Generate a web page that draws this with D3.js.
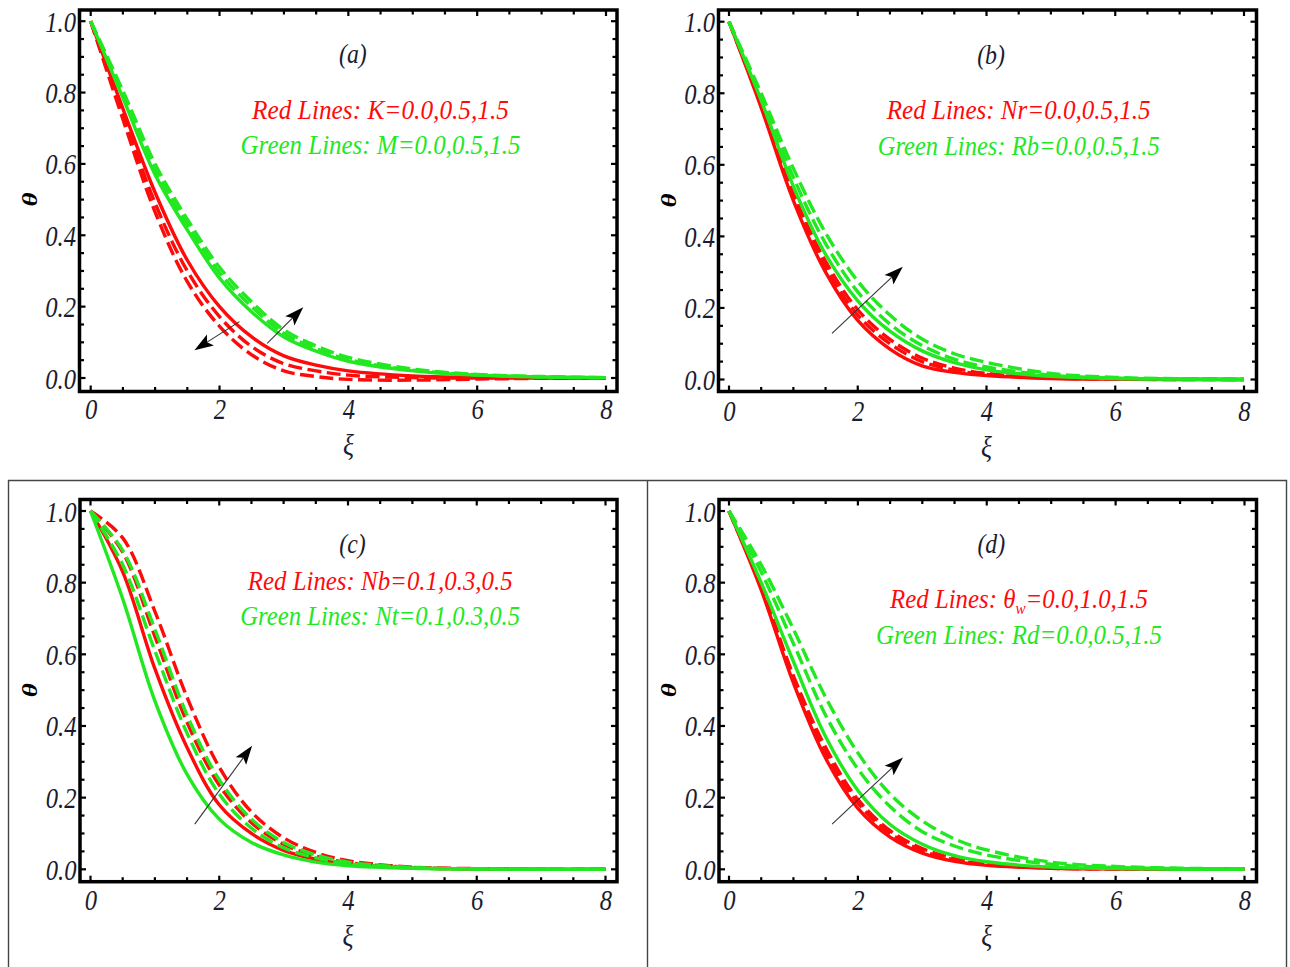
<!DOCTYPE html>
<html><head><meta charset="utf-8">
<script src="https://cdn.jsdelivr.net/npm/d3@7"></script>
<style>
body{margin:0;background:#fff}
svg{display:block}
text{font-family:"Liberation Serif","Times New Roman",serif;font-style:italic}
</style>
</head><body>
<svg id="chart" width="1290" height="967"></svg>
<script>
// ---------- data ----------
const xi = [0,0.5,1,1.5,2,2.5,3,3.5,4,5,6,7,8];

// (a) red: K = 0.0, 0.5, 1.5 ; green: M = 0.0, 0.5, 1.5
const aRedK00   = [1,0.755,0.52,0.33,0.20,0.115,0.062,0.036,0.020,0.006,0.002,0.001,0];
const aRedK05   = [1,0.74,0.49,0.30,0.172,0.088,0.040,0.020,0.008,0.001,0,0,0];
const aRedK15   = [1,0.725,0.465,0.27,0.145,0.065,0.020,0.004,-0.004,-0.006,-0.003,-0.001,0];
const aGreenM00 = [1,0.785,0.57,0.415,0.28,0.185,0.115,0.075,0.047,0.020,0.008,0.003,0.001];
const aGreenM05 = [1,0.795,0.585,0.43,0.295,0.20,0.125,0.082,0.052,0.022,0.009,0.003,0.001];
const aGreenM15 = [1,0.805,0.60,0.445,0.31,0.213,0.135,0.090,0.058,0.025,0.010,0.004,0.001];

// (b) red: Nr = 0.0, 0.5, 1.5 ; green: Rb = 0.0, 0.5, 1.5
const bRedNr00   = [1,0.76,0.50,0.30,0.165,0.085,0.038,0.020,0.011,0.003,0.001,0,0];
const bRedNr05   = [1,0.765,0.51,0.315,0.18,0.10,0.050,0.026,0.014,0.004,0.001,0,0];
const bRedNr15   = [1,0.77,0.52,0.33,0.195,0.112,0.060,0.032,0.017,0.005,0.002,0.001,0];
const bGreenRb00 = [1,0.78,0.54,0.35,0.22,0.135,0.080,0.047,0.027,0.009,0.003,0.001,0];
const bGreenRb05 = [1,0.79,0.565,0.38,0.245,0.155,0.095,0.057,0.035,0.012,0.004,0.001,0];
const bGreenRb15 = [1,0.80,0.59,0.41,0.275,0.18,0.113,0.072,0.048,0.017,0.006,0.002,0.001];

// (c) red: Nb = 0.1, 0.3, 0.5 ; green: Nt = 0.1, 0.3, 0.5
const cRedNb01   = [1,0.83,0.56,0.34,0.18,0.10,0.053,0.028,0.014,0.004,0.001,0,0];
const cRedNb03   = [1,0.885,0.65,0.41,0.235,0.13,0.070,0.037,0.019,0.005,0.001,0,0];
const cRedNb05   = [1,0.925,0.72,0.48,0.285,0.16,0.088,0.047,0.024,0.006,0.002,0,0];
const cGreenNt01 = [1,0.755,0.47,0.265,0.14,0.075,0.040,0.020,0.010,0.003,0.001,0,0];
const cGreenNt03 = [1,0.85,0.61,0.38,0.21,0.115,0.060,0.032,0.016,0.004,0.001,0,0];
const cGreenNt05 = [1,0.89,0.67,0.43,0.25,0.14,0.075,0.040,0.020,0.005,0.001,0,0];

// (d) red: theta_w = 0.0, 1.0, 1.5 ; green: Rd = 0.0, 0.5, 1.5
const dRedTw00   = [1,0.78,0.52,0.31,0.17,0.09,0.045,0.022,0.011,0.003,0.001,0,0];
const dRedTw10   = [1,0.785,0.53,0.325,0.185,0.10,0.052,0.026,0.013,0.003,0.001,0,0];
const dRedTw15   = [1,0.79,0.54,0.34,0.195,0.108,0.058,0.030,0.015,0.004,0.001,0,0];
const dGreenRd00 = [1,0.80,0.58,0.37,0.22,0.125,0.070,0.038,0.021,0.006,0.002,0,0];
const dGreenRd05 = [1,0.83,0.63,0.43,0.28,0.175,0.105,0.065,0.040,0.014,0.005,0.002,0];
const dGreenRd15 = [1,0.85,0.67,0.48,0.325,0.21,0.135,0.085,0.054,0.020,0.008,0.003,0.001];

// tick labels
const xTickValues = [0,2,4,6,8];
const xTickLabels = ["0","2","4","6","8"];
const yTickValues = [0,0.2,0.4,0.6,0.8,1.0];
const yTickLabels = ["0.0","0.2","0.4","0.6","0.8","1.0"];

// annotation arrows [xi_start, theta_start, xi_tip, theta_tip]
const aArrows = [[2.31,0.158,1.61,0.078],[2.74,0.097,3.30,0.198]];
const bArrows = [[1.60,0.129,2.70,0.315]];
const cArrows = [[1.62,0.126,2.51,0.345]];
const dArrows = [[1.60,0.126,2.70,0.312]];

// ---------- layout ----------
const RED = "#ff0a0a", GREEN = "#22e822", TICKTXT = "#1c1c30";
const dashes = [null, "14,5.5", "14,5.5"];
const SX = 0.85; // horizontal compression of the figure's lettering

const panels = [
 {label:"(a)", x0:90.7, x8:606, y0:378, y1:21.2, frame:[79.5,10,617,391.5],
  reds:[aRedK00,aRedK05,aRedK15], greens:[aGreenM00,aGreenM05,aGreenM15], arrows:aArrows,
  red:{pre:"Red Lines: K=0.0,0.5,1.5"}, redW:257, redT:0.727,
  green:"Green Lines: M=0.0,0.5,1.5", greenW:280, greenT:0.627, labT:0.882},
 {label:"(b)", x0:729, x8:1244, y0:379.5, y1:21.7, frame:[718.5,10,1256.5,391.5],
  reds:[bRedNr00,bRedNr05,bRedNr15], greens:[bGreenRb00,bGreenRb05,bGreenRb15], arrows:bArrows,
  red:{pre:"Red Lines: Nr=0.0,0.5,1.5"}, redW:264, redT:0.727,
  green:"Green Lines: Rb=0.0,0.5,1.5", greenW:282, greenT:0.627, labT:0.882},
 {label:"(c)", x0:90.5, x8:605.5, y0:869.3, y1:511, frame:[80,499.5,617,881.7],
  reds:[cRedNb01,cRedNb03,cRedNb05], greens:[cGreenNt01,cGreenNt03,cGreenNt05], arrows:cArrows,
  red:{pre:"Red Lines: Nb=0.1,0.3,0.5"}, redW:265, redT:0.78,
  green:"Green Lines: Nt=0.1,0.3,0.5", greenW:280, greenT:0.682, labT:0.883},
 {label:"(d)", x0:729, x8:1244.5, y0:869.3, y1:511, frame:[719,499.5,1256.5,881.7],
  reds:[dRedTw00,dRedTw10,dRedTw15], greens:[dGreenRd00,dGreenRd05,dGreenRd15], arrows:dArrows,
  red:{pre:"Red Lines: θ", sub:"w", post:"=0.0,1.0,1.5"}, redW:258, redT:0.728,
  green:"Green Lines: Rd=0.0,0.5,1.5", greenW:286, greenT:0.63, labT:0.883}
];

const svg = d3.select("#chart");

// outer boxes around bottom panels
svg.append("path")
  .attr("d","M8.5,1000 V480.5 H1286.5 V1000 M647.5,480.5 V1000")
  .attr("fill","none").attr("stroke","#444").attr("stroke-width",1.4);

panels.forEach(p => {
  const x = d3.scaleLinear().domain([0,8]).range([p.x0,p.x8]);
  const y = d3.scaleLinear().domain([0,1]).range([p.y0,p.y1]);
  const [fl,ft,fr,fb] = p.frame;
  const g = svg.append("g");

  // curves
  const line = d3.line().x((d,i)=>x(xi[i])).y(d=>y(d)).curve(d3.curveCatmullRom.alpha(0.5));
  p.reds.forEach((s,k)=>{
    g.append("path").attr("d",line(s)).attr("fill","none").attr("stroke",RED)
     .attr("stroke-width",3.4).attr("stroke-dasharray",dashes[k]);
  });
  p.greens.forEach((s,k)=>{
    g.append("path").attr("d",line(s)).attr("fill","none").attr("stroke",GREEN)
     .attr("stroke-width",3.4).attr("stroke-dasharray",dashes[k]);
  });

  // arrows
  p.arrows.forEach(a=>{
    const sx=x(a[0]), sy=y(a[1]), tx=x(a[2]), ty=y(a[3]);
    const dx=tx-sx, dy=ty-sy, L=Math.hypot(dx,dy), ux=dx/L, uy=dy/L;
    const hl=19, hw=6.5;
    const bx=tx-ux*hl, by=ty-uy*hl;
    g.append("line").attr("x1",sx).attr("y1",sy).attr("x2",bx+ux*4).attr("y2",by+uy*4)
      .attr("stroke","#333").attr("stroke-width",1.1);
    g.append("path")
      .attr("d",`M${tx},${ty} L${bx-uy*hw},${by+ux*hw} L${bx+ux*4},${by+uy*4} L${bx+uy*hw},${by-ux*hw} Z`)
      .attr("fill","#000");
  });

  // frame
  g.append("rect").attr("x",fl).attr("y",ft).attr("width",fr-fl).attr("height",fb-ft)
    .attr("fill","none").attr("stroke","#000").attr("stroke-width",3.5);

  // ticks (inward, all four sides)
  const minorX = d3.range(0,8.001,0.5), minorY = d3.range(0,1.0001,0.05);
  const tk = g.append("g").attr("stroke","#000").attr("stroke-width",2.2);
  minorX.forEach(v=>{
    const L = xTickValues.includes(v)?6:4.5;
    tk.append("line").attr("x1",x(v)).attr("x2",x(v)).attr("y1",fb).attr("y2",fb-L);
    tk.append("line").attr("x1",x(v)).attr("x2",x(v)).attr("y1",ft).attr("y2",ft+L);
  });
  minorY.forEach(v=>{
    const L = yTickValues.some(t=>Math.abs(t-v)<1e-6)?6:4.5;
    tk.append("line").attr("y1",y(v)).attr("y2",y(v)).attr("x1",fl).attr("x2",fl+L);
    tk.append("line").attr("y1",y(v)).attr("y2",y(v)).attr("x1",fr).attr("x2",fr-L);
  });

  // tick labels via d3 axes
  const xa = d3.axisBottom(x).tickValues(xTickValues).tickSize(0).tickPadding(0)
    .tickFormat((d,i)=>xTickLabels[i]);
  const gx = g.append("g").attr("transform",`translate(0,${p.y0+41})`).call(xa);
  gx.select(".domain").remove();
  gx.attr("font-family",null).attr("font-size",null);
  gx.selectAll("text").attr("dy",null).attr("y",0).attr("font-size",29)
    .attr("transform",`scale(${SX},1)`)
    .attr("fill",TICKTXT).style("font-family",'"Liberation Serif",serif').style("font-style","italic");

  const ya = d3.axisLeft(y).tickValues(yTickValues).tickSize(0).tickPadding(0)
    .tickFormat((d,i)=>yTickLabels[i]);
  const gy = g.append("g").attr("transform",`translate(${fl-3.5},0)`).call(ya);
  gy.select(".domain").remove();
  gy.attr("font-family",null).attr("font-size",null);
  gy.selectAll("text").attr("dy",null).attr("y",10).attr("x",0).attr("font-size",29)
    .attr("transform",`scale(${SX},1)`)
    .attr("fill",TICKTXT).style("font-family",'"Liberation Serif",serif').style("font-style","italic");

  // axis titles
  g.append("text").attr("transform",`translate(${x(4)},${p.y0+77}) scale(${SX},1)`)
    .attr("text-anchor","middle").attr("font-size",30).attr("fill",TICKTXT).text("ξ");
  const ymid=(p.y0+p.y1)/2;
  g.append("text").attr("transform",`translate(${fl-43},${ymid}) rotate(-90) scale(1,0.8)`)
    .attr("text-anchor","middle").attr("font-size",27).attr("font-weight","bold")
    .attr("fill","#000").text("θ");

  // panel label
  g.append("text").attr("transform",`translate(${x(4.07)},${y(p.labT)}) scale(${SX},1)`)
    .attr("text-anchor","middle").attr("font-size",28).attr("fill",TICKTXT).text(p.label);

  // legend texts (fitted to measured widths)
  const cx = x(4.5);
  const rt = g.append("text").attr("font-size",28).attr("fill",RED).attr("text-anchor","middle");
  rt.append("tspan").text(p.red.pre);
  if (p.red.sub){
    rt.append("tspan").attr("font-size",17).attr("dy",6).text(p.red.sub);
    rt.append("tspan").attr("dy",-6).text(p.red.post);
  }
  const sr = p.redW / rt.node().getComputedTextLength();
  rt.attr("transform",`translate(${cx},${y(p.redT)}) scale(${sr},1)`);

  const gt = g.append("text").attr("font-size",28).attr("fill",GREEN).attr("text-anchor","middle")
    .text(p.green);
  const sg = p.greenW / gt.node().getComputedTextLength();
  gt.attr("transform",`translate(${cx},${y(p.greenT)}) scale(${sg},1)`);
});
</script>
</body></html>
